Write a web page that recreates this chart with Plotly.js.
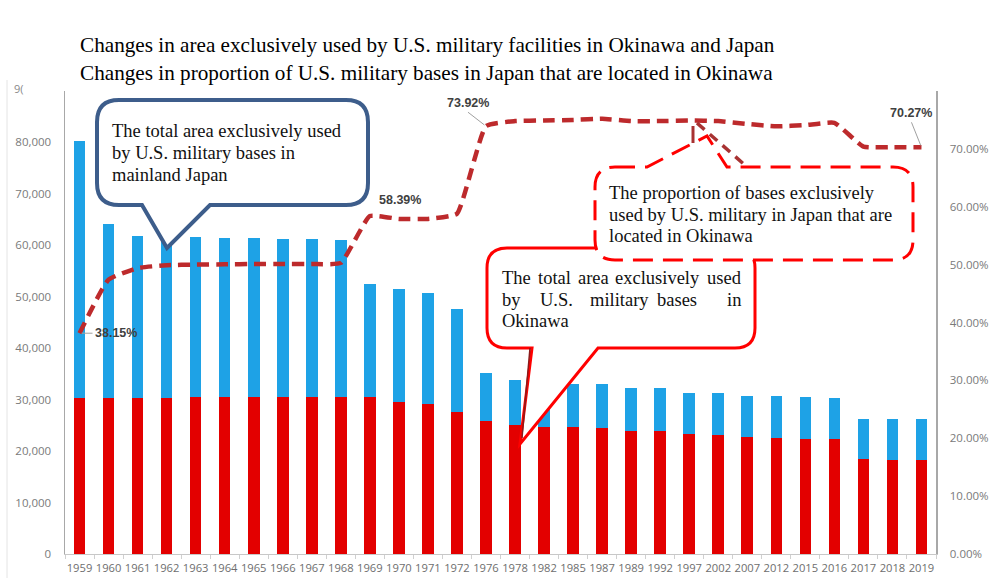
<!DOCTYPE html>
<html><head><meta charset="utf-8">
<script src="https://cdn.plot.ly/plotly-3.0.1.min.js"></script>
<style>html,body{margin:0;padding:0;background:#fff}#chart{width:1008px;height:578px}</style>
</head><body><div id="chart"></div>
<script>
const years = ['1959','1960','1961','1962','1963','1964','1965','1966','1967','1968','1969','1970','1971','1972','1976','1978','1982','1985','1987','1989','1992','1997','2002','2007','2012','2015','2016','2017','2018','2019'];
const okinawaArea = [30350,30350,30350,30400,30500,30500,30500,30500,30500,30500,30500,29600,29100,27600,25800,25050,24700,24700,24550,24000,24000,23300,23150,22650,22600,22450,22400,18400,18300,18250];
const mainlandArea = [49850,33750,31550,31300,31100,30900,30900,30700,30700,30500,22050,21850,21600,19950,9400,8750,8600,8300,8400,8350,8350,8050,8050,8150,8200,8050,7850,7900,7850,7900];
const okinawaShare = [38.15,47.4,49.4,49.9,50.0,50.05,50.1,50.1,50.1,50.3,58.39,57.9,57.9,58.8,73.92,74.8,74.9,75.0,75.2,74.8,74.8,74.9,74.8,74.3,73.9,74.1,74.5,70.4,70.3,70.27];
const labelIdx = [0,10,14,29];
const leftTicks = [0,10000,20000,30000,40000,50000,60000,70000,80000];
const rightTicks = [0,10,20,30,40,50,60,70];
const rightTickText = ['0.00%','10.00%','20.00%','30.00%','40.00%','50.00%','60.00%','70.00%'];
const titleLines = ['Changes in area exclusively used by U.S. military facilities in Okinawa and Japan',
                    'Changes in proportion of U.S. military bases in Japan that are located in Okinawa'];

const W=1008,H=578,L=65,R=72,T=91,B=24;
const PW=W-L-R, PH=H-T-B;
const X = px => (px-L)/PW;
const Y = py => (H-B-py)/PH;
const P = (x,y) => X(x).toFixed(5)+','+Y(y).toFixed(5);

function callout(x0,y0,x1,y1,r,side,b1,b2,tx,ty){
  let d='M'+P(x0+r,y0);
  if(side==='top'){ d+=' L'+P(b1,y0)+' L'+P(tx,ty)+' L'+P(b2,y0); }
  d+=' L'+P(x1-r,y0)+' Q'+P(x1,y0)+' '+P(x1,y0+r);
  d+=' L'+P(x1,y1-r)+' Q'+P(x1,y1)+' '+P(x1-r,y1);
  if(side==='bottom'){ d+=' L'+P(b2,y1)+' L'+P(tx,ty)+' L'+P(b1,y1); }
  d+=' L'+P(x0+r,y1)+' Q'+P(x0,y1)+' '+P(x0,y1-r);
  d+=' L'+P(x0,y0+r)+' Q'+P(x0,y0)+' '+P(x0+r,y0)+' Z';
  return d;
}

const traces = [
  {type:'bar', x:years, y:okinawaArea, marker:{color:'#e30000'}, width:0.4, name:'Okinawa', hoverinfo:'x+y'},
  {type:'bar', x:years, y:mainlandArea, marker:{color:'#1ea2e6'}, width:0.4, name:'Mainland', hoverinfo:'x+y'},
  {type:'scatter', mode:'lines', x:years, y:okinawaShare, yaxis:'y2', name:'Share',
   line:{color:'#bd2a2c', width:4.5, dash:'12px,7px', shape:'spline', smoothing:0.4}}
];

const serif = 'Liberation Serif, Times New Roman, serif';
const ann = [];
titleLines.forEach((t,i)=>ann.push({xref:'paper',yref:'paper',x:X(78),y:Y(45+i*28),xanchor:'left',yanchor:'middle',
  text:t,showarrow:false,font:{family:serif,size:21.2,color:'#000'}}));

const lblFont = {family:'Liberation Sans, Arial, sans-serif',size:12.5,color:'#404040'};
const lblOff = [[13,0],[30,-7],[-18,-14],[-10,-25]];
labelIdx.forEach((k,i)=>{
  const o = lblOff[i];
  ann.push({xref:'x',yref:'y2',x:k,y:okinawaShare[k],text:'<b>'+okinawaShare[k].toFixed(2)+'%</b>',
    showarrow: i!==1, arrowhead:0, arrowwidth:1, arrowcolor:'#a0a0a0', ax:o[0], ay:o[1], standoff:2,
    xshift: i===1?o[0]:0, yshift: i===1?-o[1]:0,
    xanchor: i===0?'left':'center', yanchor: i===0?'middle':'bottom', font:lblFont});
});

function textAt(t,x,y,anchor){ ann.push({xref:'paper',yref:'paper',x:X(x),y:Y(y),xanchor:anchor||'left',yanchor:'middle',
  text:t,showarrow:false,font:{family:serif,size:18.5,color:'#111'}}); }
function wordsAt(words,xs,y){ words.forEach((w,i)=>textAt(w,xs[i],y)); }
// mainland callout
textAt('The total area exclusively used',110,131);
textAt('by U.S. military bases in',110,153);
textAt('mainland Japan',110,175);
// proportion callout
textAt('The proportion of bases exclusively',607,193);
textAt('used by U.S. military in Japan that are',607,215);
textAt('located in Okinawa',607,236);
// okinawa callout (justified)
wordsAt(['The','total','area','exclusively','used'],[500,536,576,613,705],278);
wordsAt(['by','U.S.','military','bases','in'],[500,538,588,655,725],300);
textAt('Okinawa',500,321);
// clipped top tick
ann.push({xref:'paper',yref:'paper',x:X(12),y:Y(88),xanchor:'left',yanchor:'middle',text:'9(',showarrow:false,
  font:{family:'Open Sans, sans-serif',size:11,color:'#8a8a8a'}});

const shapes = [
  {type:'line',xref:'paper',yref:'paper',x0:X(7),x1:X(7),y0:Y(80),y1:Y(578),line:{color:'#e4e4e4',width:1}},
  {type:'path',xref:'paper',yref:'paper',layer:'above',path:callout(97,100,368,205,22,'bottom',142,210,167,248),
   fillcolor:'#ffffff',line:{color:'#3d5d8b',width:4}},
  {type:'path',xref:'paper',yref:'paper',layer:'above',path:callout(487,248,755,348,20,'bottom',532,598,520,444),
   fillcolor:'#ffffff',line:{color:'#ff0000',width:3}},
  {type:'line',xref:'paper',yref:'paper',layer:'above',x0:X(530),y0:Y(348),x1:X(522),y1:Y(438),line:{color:'#8b1a1a',width:1.5}},
  {type:'path',xref:'paper',yref:'paper',layer:'above',path:callout(595,167,913,260,20,'top',647,727,707,136),
   fillcolor:'#ffffff',line:{color:'#ff0000',width:3,dash:'20px,10px'}},
  {type:'line',xref:'paper',yref:'paper',layer:'above',x0:X(697),y0:Y(123),x1:X(746),y1:Y(166),line:{color:'#a83232',width:3.5,dash:'10px,7px'}},
  {type:'line',xref:'paper',yref:'paper',layer:'above',x0:X(693),y0:Y(126),x1:X(693),y1:Y(143),line:{color:'#a83232',width:3}}
];

const tickFont = {family:'Open Sans, Liberation Sans, sans-serif',size:11.5,color:'#7a7a7a'};
const layout = {
  width:W,height:H,margin:{l:L,r:R,t:T,b:B},paper_bgcolor:'#fff',plot_bgcolor:'#fff',
  barmode:'stack',showlegend:false,font:{family:'Open Sans, sans-serif'},
  xaxis:{type:'category',range:[-0.5,29.5],autorange:false,showgrid:false,showline:true,linecolor:'#c8c8c8',linewidth:1,ticks:'outside',tickson:'boundaries',
    ticklen:4,tickcolor:'#d0d0d0',tickfont:{family:'Open Sans, Liberation Sans, sans-serif',size:11.2,color:'#6e6e6e'},tickangle:0,fixedrange:true,automargin:false,ticklabelstandoff:4},
  yaxis:{range:[0,90000],autorange:false,tickmode:'array',tickvals:leftTicks,tickformat:',d',showgrid:false,zeroline:false,showline:true,linecolor:'#a8a8a8',linewidth:1.5,
    tickfont:tickFont,ticklabelstandoff:10,automargin:false},
  yaxis2:{overlaying:'y',side:'right',range:[0,80],autorange:false,tickmode:'array',tickvals:rightTicks,ticktext:rightTickText,showgrid:false,zeroline:false,
    showline:true,linecolor:'#a8a8a8',linewidth:1.5,tickfont:tickFont,ticklabelstandoff:10,automargin:false},
  annotations:ann, shapes:shapes
};
Plotly.newPlot('chart',traces,layout,{staticPlot:true});
</script></body></html>
